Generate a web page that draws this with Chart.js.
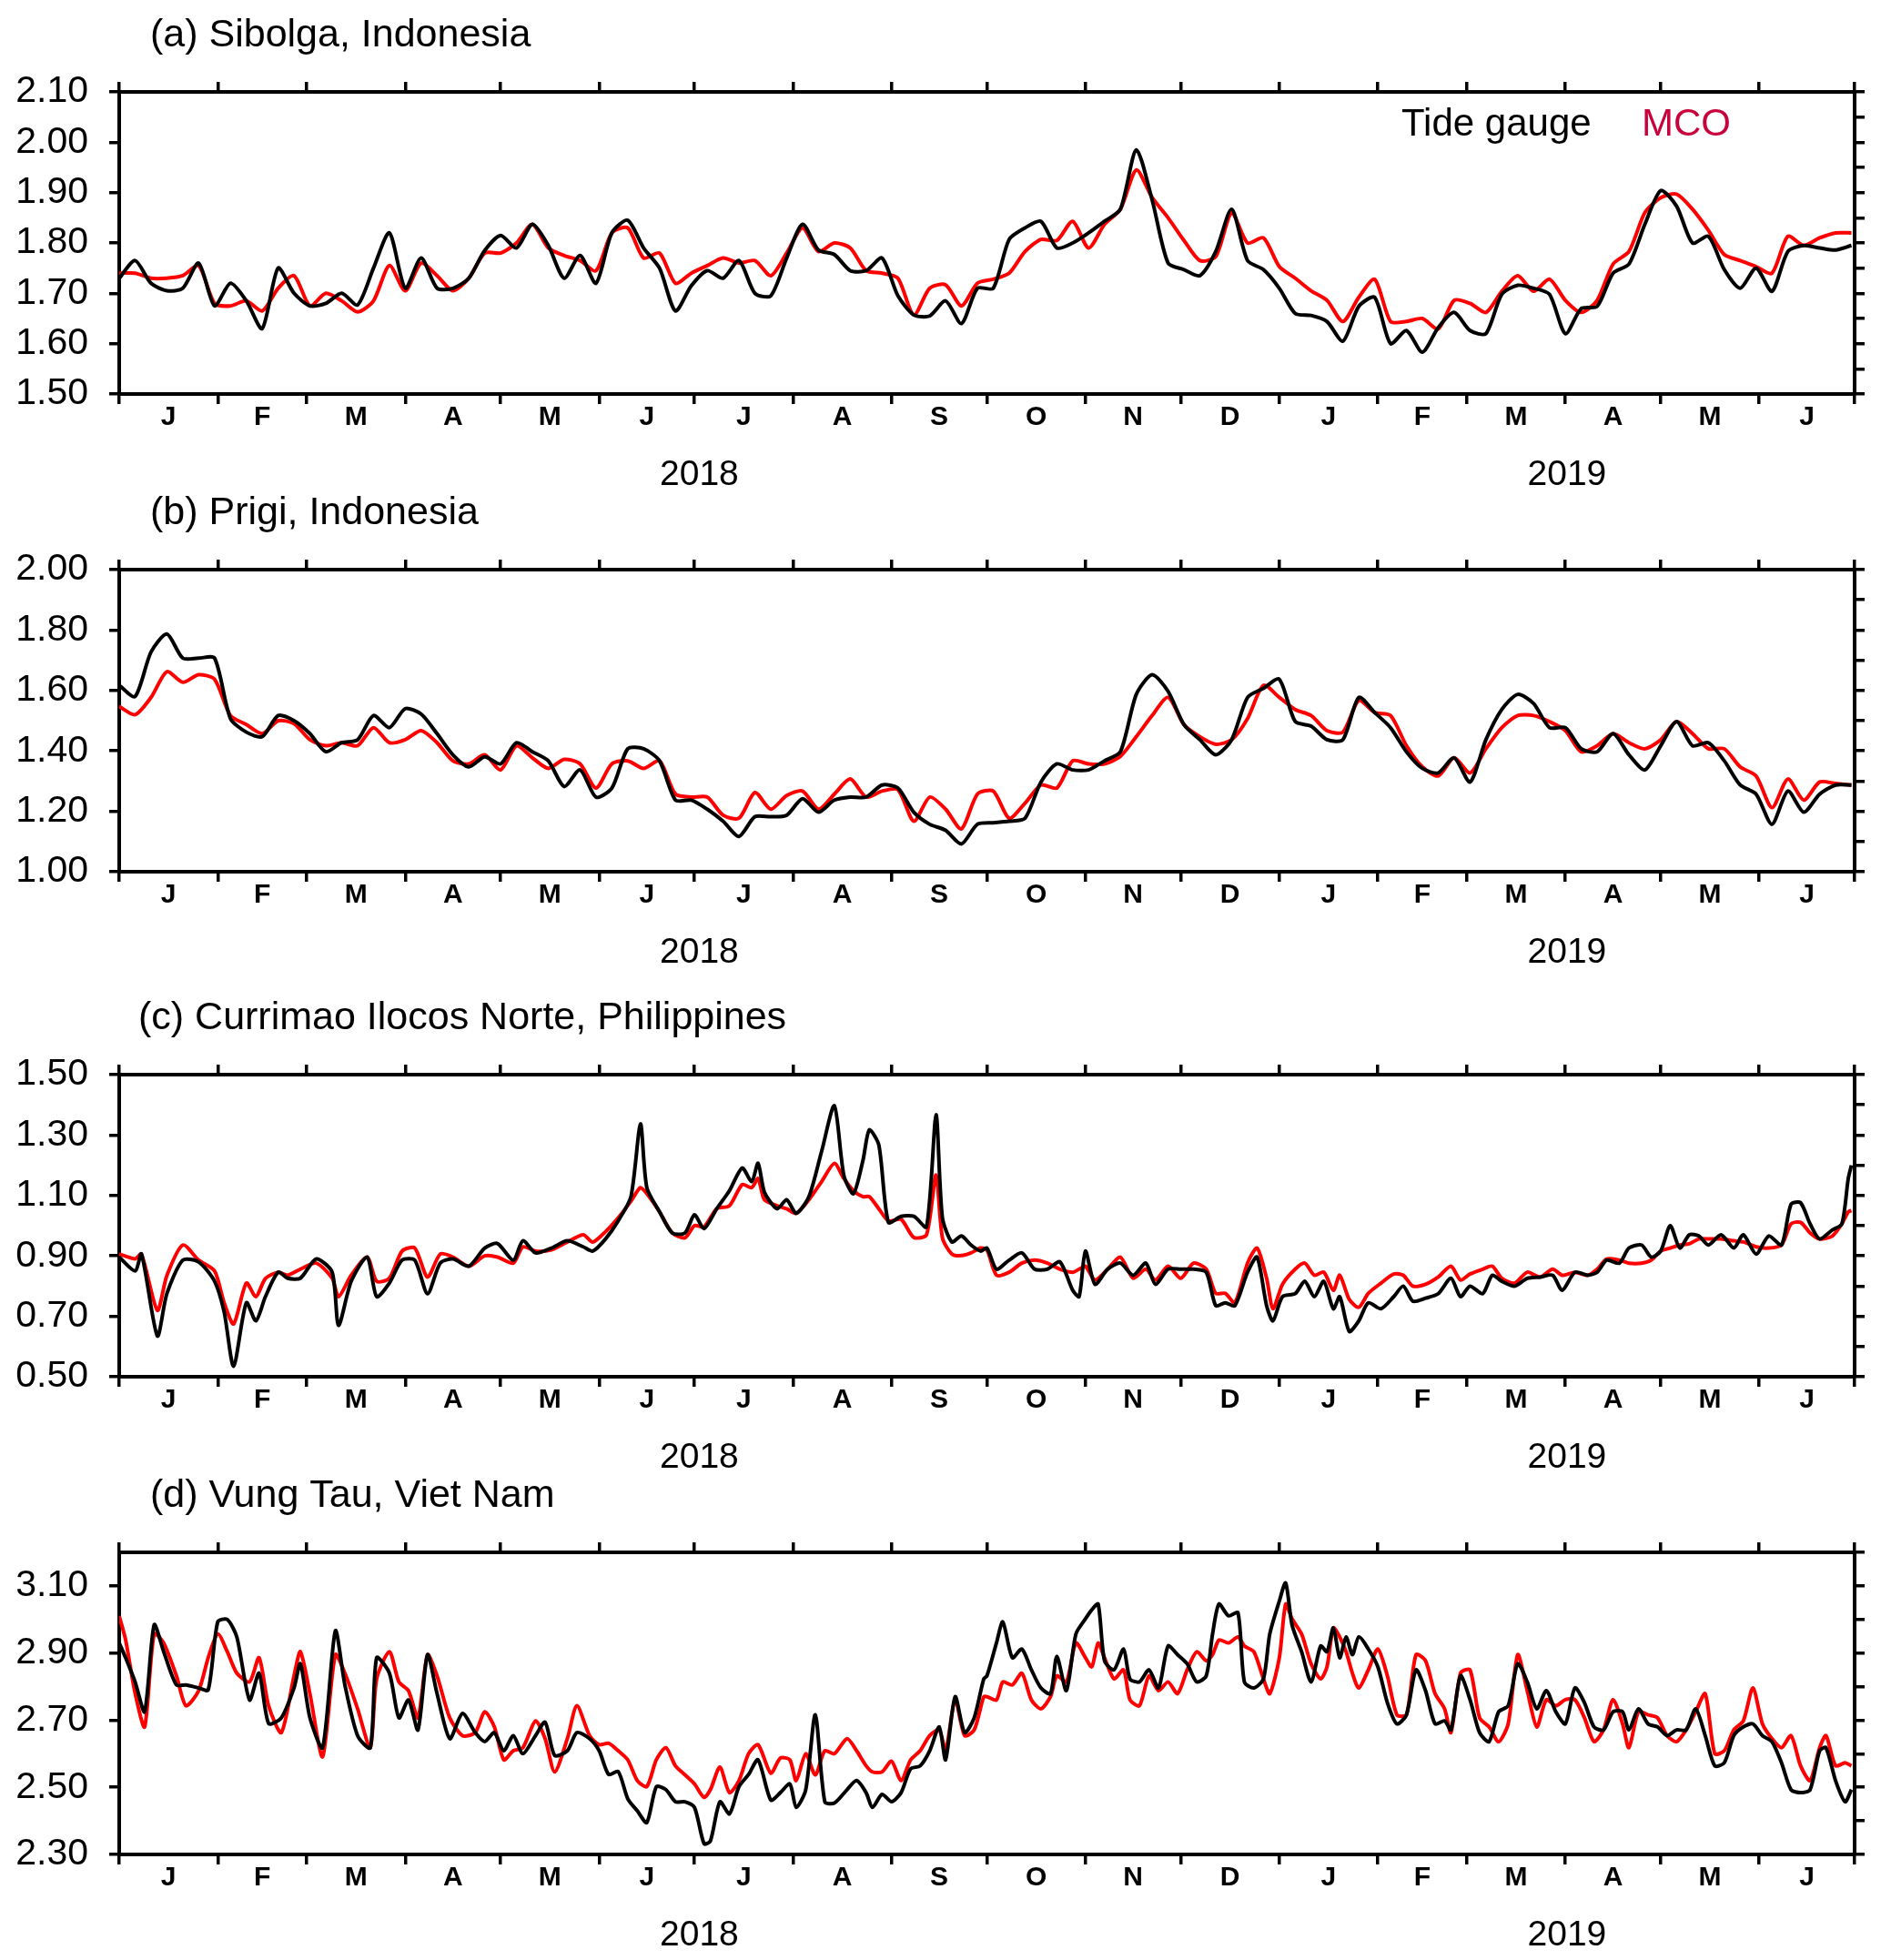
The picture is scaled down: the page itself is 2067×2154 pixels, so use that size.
<!DOCTYPE html>
<html>
<head>
<meta charset="utf-8">
<title>Tide gauge vs MCO sea level</title>
<script src="https://cdn.jsdelivr.net/npm/chart.js@4.4.1/dist/chart.umd.min.js"></script>
<style>
  html, body { margin: 0; padding: 0; background: #fff; }
  #wrap { position: relative; width: 2067px; height: 2154px; overflow: hidden; }
  #wrap canvas { position: absolute; left: 0; }
</style>
</head>
<body>
<div id="wrap">
  <canvas id="panelA" width="2067" height="538" style="top:0px"></canvas>
  <canvas id="panelB" width="2067" height="538" style="top:525px"></canvas>
  <canvas id="panelC" width="2067" height="538" style="top:1080px"></canvas>
  <canvas id="panelD" width="2067" height="538" style="top:1605px"></canvas>
</div>
<script>
// Axis data: days since 1 Jan 2018
const monthStarts = [0, 31, 59, 90, 120, 151, 181, 212, 243, 273, 304, 334, 365, 396, 424, 455, 485, 516, 546];
const monthLabels = ['J', 'F', 'M', 'A', 'M', 'J', 'J', 'A', 'S', 'O', 'N', 'D', 'J', 'F', 'M', 'A', 'M', 'J'];
const yearLabels = ['2018', '2019'];
const yearStarts = [0, 365, 546];

const yTicksA = [1.50, 1.55, 1.60, 1.65, 1.70, 1.75, 1.80, 1.85, 1.90, 1.95, 2.00, 2.05, 2.10];
const yTicksB = [1.0, 1.1, 1.2, 1.3, 1.4, 1.5, 1.6, 1.7, 1.8, 1.9, 2.0];
const yTicksC = [0.5, 0.6, 0.7, 0.8, 0.9, 1.0, 1.1, 1.2, 1.3, 1.4, 1.5];
const yTicksD = [2.3, 2.4, 2.5, 2.6, 2.7, 2.8, 2.9, 3.0, 3.1, 3.2];

// (a) and (b) are read every 5 days
const daysAB = Array.from({ length: 110 }, (_, i) => i * 5);

// (a) Sibolga
const gaugeA = [1.730, 1.765, 1.720, 1.705, 1.710, 1.760, 1.675, 1.720, 1.685, 1.630,
  1.750, 1.700, 1.675, 1.680, 1.700, 1.677, 1.750, 1.820, 1.710, 1.770,
  1.710, 1.710, 1.730, 1.785, 1.815, 1.790, 1.837, 1.795, 1.730, 1.775,
  1.720, 1.820, 1.845, 1.790, 1.750, 1.665, 1.715, 1.745, 1.730, 1.765,
  1.700, 1.695, 1.770, 1.837, 1.786, 1.777, 1.745, 1.745, 1.770, 1.695,
  1.657, 1.655, 1.685, 1.640, 1.710,
  1.710, 1.807, 1.830, 1.843, 1.790, 1.800, 1.820, 1.843, 1.867, 1.985,
  1.885, 1.760, 1.747, 1.735, 1.783, 1.867, 1.765, 1.747, 1.710, 1.660,
  1.656, 1.644, 1.605, 1.674, 1.692, 1.600, 1.626, 1.583, 1.632, 1.662,
  1.626, 1.620, 1.698, 1.716, 1.710, 1.698, 1.620, 1.670, 1.674, 1.740,
  1.758, 1.837, 1.904, 1.873, 1.800, 1.813, 1.747, 1.710, 1.750, 1.704,
  1.783, 1.795, 1.790, 1.786, 1.795];
const mcoA = [1.740, 1.740, 1.730, 1.730, 1.735, 1.755, 1.680, 1.675, 1.685, 1.665,
  1.710, 1.735, 1.675, 1.700, 1.685, 1.663, 1.685, 1.755, 1.705, 1.760,
  1.735, 1.705, 1.730, 1.780, 1.780, 1.800, 1.837, 1.790, 1.775, 1.765,
  1.745, 1.820, 1.830, 1.770, 1.780, 1.720, 1.740, 1.755, 1.770, 1.760,
  1.765, 1.735, 1.780, 1.830, 1.783, 1.800, 1.790, 1.745, 1.740, 1.730,
  1.657, 1.710, 1.717, 1.675, 1.720,
  1.728, 1.740, 1.783, 1.807, 1.805, 1.843, 1.790, 1.837, 1.867, 1.945,
  1.890, 1.850, 1.805, 1.765, 1.773, 1.860, 1.800, 1.810, 1.753, 1.730,
  1.705, 1.686, 1.644, 1.692, 1.728, 1.644, 1.644, 1.650, 1.629, 1.686,
  1.680, 1.662, 1.704, 1.735, 1.704, 1.728, 1.686, 1.662, 1.686, 1.758,
  1.783, 1.860, 1.890, 1.897, 1.867, 1.825, 1.777, 1.765, 1.753, 1.740,
  1.813, 1.795, 1.810, 1.820, 1.820];

// (b) Prigi
const gaugeB = [1.617, 1.580, 1.727, 1.787, 1.707, 1.707, 1.707, 1.507, 1.462, 1.447,
  1.517, 1.500, 1.457, 1.397, 1.427, 1.437, 1.517, 1.477, 1.540, 1.522,
  1.457, 1.387, 1.347, 1.380, 1.357, 1.427, 1.397, 1.367, 1.282, 1.337,
  1.247, 1.277, 1.407, 1.407, 1.367, 1.237, 1.237, 1.207, 1.167, 1.117,
  1.182, 1.182, 1.187, 1.242, 1.197, 1.237, 1.247, 1.247, 1.287, 1.277,
  1.197, 1.157, 1.137, 1.092, 1.157,
  1.162, 1.167, 1.177, 1.297, 1.357, 1.337, 1.337, 1.367, 1.397, 1.587,
  1.652, 1.597, 1.487, 1.437, 1.387, 1.437, 1.577, 1.607, 1.637, 1.497,
  1.482, 1.437, 1.437, 1.577, 1.527, 1.477, 1.397, 1.342, 1.327, 1.377,
  1.297, 1.437, 1.537, 1.587, 1.557, 1.477, 1.477, 1.407, 1.397, 1.457,
  1.387, 1.337, 1.417, 1.497, 1.417, 1.427, 1.367, 1.287, 1.257, 1.157,
  1.267, 1.197, 1.257, 1.287, 1.287];
const mcoB = [1.547, 1.520, 1.577, 1.662, 1.627, 1.652, 1.637, 1.517, 1.487, 1.457,
  1.500, 1.490, 1.437, 1.417, 1.427, 1.417, 1.477, 1.427, 1.437, 1.467,
  1.427, 1.367, 1.357, 1.387, 1.337, 1.417, 1.377, 1.342, 1.372, 1.357,
  1.277, 1.357, 1.367, 1.342, 1.367, 1.257, 1.247, 1.247, 1.187, 1.177,
  1.262, 1.207, 1.252, 1.267, 1.207, 1.257, 1.307, 1.247, 1.267, 1.272,
  1.167, 1.247, 1.207, 1.142, 1.257,
  1.267, 1.177, 1.227, 1.287, 1.277, 1.367, 1.357, 1.357, 1.382, 1.447,
  1.517, 1.577, 1.487, 1.447, 1.422, 1.437, 1.507, 1.617, 1.577, 1.537,
  1.517, 1.467, 1.462, 1.567, 1.527, 1.517, 1.417, 1.347, 1.317, 1.377,
  1.327, 1.407, 1.477, 1.517, 1.517, 1.497, 1.467, 1.397, 1.417, 1.457,
  1.427, 1.407, 1.437, 1.497, 1.457, 1.407, 1.407, 1.347, 1.317, 1.212,
  1.307, 1.237, 1.297, 1.292, 1.287];

// (c) Currimao Ilocos Norte
const daysC = [0, 5, 7, 12, 15, 20, 25, 30, 33, 36, 40, 43, 46, 50, 53, 57, 62, 67, 69, 73,
  78, 81, 85, 89, 93, 97, 101, 105, 110, 115, 119, 124, 127, 131, 136, 141, 146, 149, 153, 157,
  161, 164, 166, 170, 174, 178, 181, 184, 188, 192, 196, 199, 201, 203, 207, 210, 213, 217, 221, 225,
  228, 231, 234, 236, 239, 242, 246, 250, 254, 257, 259, 262, 265, 268, 271,
  273, 276, 280, 284, 288, 292, 296, 300, 302, 304, 307, 311, 315, 319, 323, 326, 330, 334, 338, 342,
  345, 348, 351, 355, 358, 361, 363, 366, 370, 373, 376, 379, 382, 384, 387, 390, 393, 397, 401, 404,
  407, 411, 415, 419, 422, 425, 429, 432, 435, 439, 443, 447, 451, 454, 458, 462, 465, 468, 472, 475,
  479, 482, 485, 488, 491, 494, 497, 500, 504, 508, 511, 515, 519, 523, 526, 529, 532, 535, 539, 542,
  544, 545];
const gaugeC = [0.896, 0.850, 0.906, 0.635, 0.775, 0.886, 0.880, 0.816, 0.715, 0.535,
  0.745, 0.685, 0.765, 0.846, 0.826, 0.826, 0.890, 0.846, 0.670, 0.816,
  0.896, 0.765, 0.810, 0.886, 0.886, 0.775, 0.876, 0.890, 0.866, 0.926,
  0.941, 0.886, 0.950, 0.910, 0.926, 0.950, 0.930, 0.916, 0.956, 1.016,
  1.096, 1.337, 1.126, 1.046, 0.976, 0.976, 1.036, 0.990, 1.056, 1.116,
  1.191, 1.146, 1.207, 1.111, 1.056, 1.086, 1.041, 1.096, 1.246, 1.397,
  1.166, 1.106, 1.216, 1.317, 1.267, 1.011, 1.031, 1.031, 0.996, 1.367,
  1.026, 0.946, 0.966, 0.936, 0.916,
  0.926, 0.856, 0.886, 0.910, 0.856, 0.856, 0.880, 0.786, 0.765, 0.916,
  0.806, 0.856, 0.876, 0.836, 0.876, 0.806, 0.856, 0.856, 0.856, 0.846,
  0.735, 0.745, 0.735, 0.846, 0.896, 0.735, 0.685, 0.765, 0.775, 0.816,
  0.765, 0.816, 0.725, 0.765, 0.650, 0.685, 0.745, 0.725, 0.765, 0.800,
  0.750, 0.760, 0.775, 0.826, 0.765, 0.800, 0.775, 0.836, 0.816, 0.800,
  0.826, 0.830, 0.836, 0.786, 0.846, 0.836, 0.846, 0.886, 0.876, 0.926,
  0.936, 0.896, 0.916, 1.000, 0.926, 0.970, 0.966, 0.936, 0.970, 0.926,
  0.970, 0.906, 0.966, 0.936, 1.071, 1.076, 1.006, 0.956, 0.986, 1.006,
  1.156, 1.200];
const mcoC = [0.906, 0.890, 0.906, 0.720, 0.835, 0.936, 0.886, 0.850, 0.745, 0.675,
  0.810, 0.765, 0.825, 0.846, 0.836, 0.856, 0.876, 0.826, 0.765, 0.836,
  0.896, 0.816, 0.826, 0.916, 0.926, 0.830, 0.906, 0.896, 0.866, 0.900,
  0.896, 0.876, 0.930, 0.916, 0.920, 0.946, 0.970, 0.946, 0.980, 1.026,
  1.081, 1.126, 1.106, 1.046, 0.976, 0.960, 1.000, 0.996, 1.056, 1.066,
  1.136, 1.126, 1.156, 1.086, 1.066, 1.056, 1.041, 1.086, 1.146, 1.206,
  1.156, 1.116, 1.096, 1.096, 1.056, 1.016, 1.021, 0.961, 0.970, 1.168,
  0.960, 0.906, 0.901, 0.910, 0.926,
  0.920, 0.836, 0.846, 0.876, 0.886, 0.876, 0.856, 0.846, 0.856, 0.866,
  0.820, 0.856, 0.896, 0.826, 0.856, 0.820, 0.866, 0.826, 0.876, 0.856,
  0.776, 0.776, 0.745, 0.876, 0.926, 0.826, 0.725, 0.806, 0.856, 0.876,
  0.836, 0.846, 0.786, 0.836, 0.756, 0.730, 0.776, 0.810, 0.840, 0.836,
  0.800, 0.806, 0.830, 0.866, 0.820, 0.840, 0.856, 0.866, 0.826, 0.810,
  0.846, 0.830, 0.856, 0.836, 0.846, 0.836, 0.856, 0.890, 0.886, 0.876,
  0.876, 0.886, 0.916, 0.926, 0.936, 0.940, 0.956, 0.956, 0.956, 0.950,
  0.946, 0.930, 0.926, 0.936, 1.006, 1.011, 0.976, 0.956, 0.966, 1.006,
  1.046, 1.050];

// (d) Vung Tau
const daysD = [0, 2, 5, 8, 11, 14, 18, 21, 25, 28, 31, 34, 37, 41, 44, 47, 51, 55, 57, 60,
  64, 68, 71, 75, 79, 81, 85, 88, 91, 94, 97, 100, 104, 108, 112, 115, 118, 121, 124, 127,
  131, 134, 137, 141, 144, 148, 151, 154, 157, 160, 163, 166, 169, 172, 175, 178, 181, 184, 186, 189,
  192, 195, 198, 201, 205, 208, 211, 213, 216, 219, 222, 225, 229, 232, 235, 237, 240, 243, 246, 249,
  252, 255, 258, 260, 263, 266, 269, 272,
  273, 276, 278, 281, 284, 287, 290, 293, 295, 298, 301, 304, 306, 308, 310, 313, 316, 318, 321, 324,
  327, 330, 333, 336, 339, 342, 344, 346, 349, 352, 354, 357, 360, 362, 365, 367, 369, 372, 375, 378,
  380, 382, 384, 386, 388, 390, 393, 396, 399, 402, 405, 408, 411, 414, 417, 419, 422, 425, 428, 431,
  434, 437, 440, 443, 446, 449, 452, 455, 458, 461, 464, 467, 470, 473, 475, 478, 481, 484, 487, 490,
  493, 496, 499, 502, 505, 508, 511, 514, 517, 520, 523, 526, 529, 532, 535, 537, 540, 543, 545];
const gaugeD = [2.930, 2.886, 2.814, 2.725, 2.984, 2.904, 2.805, 2.805, 2.796, 2.790,
  2.993, 3.000, 2.948, 2.760, 2.840, 2.690, 2.707, 2.796, 2.868, 2.707,
  2.618, 2.966, 2.805, 2.654, 2.618, 2.886, 2.840, 2.707, 2.760, 2.671,
  2.895, 2.779, 2.645, 2.720, 2.663, 2.636, 2.663, 2.609, 2.654, 2.600,
  2.654, 2.694, 2.595, 2.609, 2.663, 2.645, 2.609, 2.538, 2.547, 2.466,
  2.430, 2.395, 2.502, 2.493, 2.457, 2.457, 2.440, 2.332, 2.340, 2.457,
  2.421, 2.502, 2.538, 2.582, 2.462, 2.484, 2.510, 2.440, 2.493, 2.716,
  2.457, 2.453, 2.493, 2.520, 2.484, 2.440, 2.479, 2.457, 2.484, 2.555,
  2.564, 2.609, 2.680, 2.582, 2.770, 2.663, 2.707, 2.823,
  2.832, 2.930, 2.993, 2.886, 2.912, 2.850, 2.796, 2.779, 2.890, 2.788,
  2.957, 3.002, 3.029, 3.046, 2.877, 2.850, 2.912, 2.823, 2.814, 2.850,
  2.796, 2.921, 2.895, 2.868, 2.814, 2.832, 2.957, 3.046, 3.011, 3.020,
  2.814, 2.796, 2.823, 2.957, 3.055, 3.109, 2.984, 2.904, 2.814, 2.921,
  2.904, 2.975, 2.886, 2.948, 2.895, 2.948, 2.912, 2.859, 2.752, 2.689,
  2.716, 2.850, 2.788, 2.689, 2.698, 2.671, 2.832, 2.761, 2.663, 2.636,
  2.725, 2.743, 2.868, 2.814, 2.734, 2.788, 2.725, 2.689, 2.796, 2.752,
  2.680, 2.671, 2.725, 2.725, 2.671, 2.734, 2.689, 2.680, 2.654, 2.671,
  2.671, 2.734, 2.654, 2.564, 2.573, 2.654, 2.680, 2.689, 2.654, 2.636,
  2.573, 2.493, 2.484, 2.493, 2.609, 2.618, 2.520, 2.457, 2.493];
const mcoD = [3.010, 2.940, 2.780, 2.680, 2.957, 2.930, 2.832, 2.743, 2.788, 2.886,
  2.957, 2.904, 2.840, 2.814, 2.886, 2.743, 2.663, 2.832, 2.904, 2.779,
  2.591, 2.895, 2.840, 2.734, 2.618, 2.823, 2.904, 2.814, 2.788, 2.707,
  2.895, 2.832, 2.707, 2.654, 2.663, 2.725, 2.681, 2.582, 2.609, 2.618,
  2.698, 2.645, 2.546, 2.645, 2.743, 2.654, 2.627, 2.631, 2.609, 2.582,
  2.520, 2.502, 2.582, 2.618, 2.564, 2.537, 2.510, 2.470, 2.493, 2.560,
  2.484, 2.520, 2.600, 2.627, 2.542, 2.587, 2.582, 2.520, 2.600, 2.537,
  2.609, 2.600, 2.645, 2.609, 2.564, 2.546, 2.546, 2.578, 2.520, 2.582,
  2.609, 2.654, 2.671, 2.609, 2.761, 2.654, 2.671, 2.770,
  2.770, 2.760, 2.814, 2.805, 2.840, 2.760, 2.734, 2.770, 2.832, 2.814,
  2.930, 2.886, 2.859, 2.930, 2.886, 2.823, 2.850, 2.761, 2.743, 2.832,
  2.788, 2.814, 2.779, 2.850, 2.904, 2.877, 2.895, 2.939, 2.930, 2.948,
  2.921, 2.904, 2.823, 2.779, 2.886, 3.046, 3.002, 2.957, 2.868, 2.823,
  2.859, 2.975, 2.948, 2.904, 2.840, 2.796, 2.850, 2.912, 2.832, 2.716,
  2.716, 2.895, 2.877, 2.779, 2.734, 2.663, 2.840, 2.850, 2.707, 2.680,
  2.636, 2.689, 2.895, 2.788, 2.680, 2.761, 2.743, 2.761, 2.761, 2.707,
  2.636, 2.671, 2.761, 2.689, 2.618, 2.725, 2.716, 2.707, 2.654, 2.636,
  2.671, 2.725, 2.779, 2.600, 2.609, 2.671, 2.698, 2.796, 2.689, 2.645,
  2.618, 2.654, 2.564, 2.520, 2.618, 2.654, 2.564, 2.573, 2.564];

const FONT = "'Liberation Sans', Arial, Helvetica, sans-serif";
Chart.defaults.font.family = FONT;
Chart.defaults.color = '#000';

// plot frame inside each canvas
const AREA = { left: 131, right: 2038, top: 101, bottom: 433, width: 2067, height: 538 };

// month labels sit at the middle of each month, tick marks at the month edges
const monthMid = new Map();
monthLabels.forEach((m, i) => monthMid.set((monthStarts[i] + monthStarts[i + 1]) / 2, m));
const bottomTickValues = monthStarts.concat([...monthMid.keys()]).sort((a, b) => a - b);

const gridStyle = {
  display: true,
  drawOnChartArea: false,
  drawTicks: true,
  tickLength: 11,
  lineWidth: 3.5,
  tickWidth: 3.5,
  color: '#000'
};
const borderStyle = { display: true, width: 4, color: '#000' };

function xBottom() {
  return {
    type: 'linear', position: 'bottom', min: 0, max: 546,
    afterBuildTicks: s => { s.ticks = bottomTickValues.map(v => ({ value: v })); },
    afterFit: s => { s.height = AREA.height - AREA.bottom; },
    grid: Object.assign({}, gridStyle, {
      tickColor: ctx => (ctx.tick && monthMid.has(ctx.tick.value)) ? 'rgba(0,0,0,0)' : '#000'
    }),
    border: borderStyle,
    ticks: {
      autoSkip: false, maxRotation: 0, padding: -3,
      font: { size: 30, weight: 'bold' },
      callback: v => monthMid.get(v) || ''
    }
  };
}

function xTop() {
  return {
    type: 'linear', position: 'top', min: 0, max: 546,
    afterBuildTicks: s => { s.ticks = monthStarts.map(v => ({ value: v })); },
    afterFit: s => { s.height = AREA.top; },
    grid: gridStyle,
    border: borderStyle,
    ticks: { display: false }
  };
}

function yAxis(ticks, position) {
  return {
    type: 'linear', position: position, min: ticks[0], max: ticks[ticks.length - 1],
    afterBuildTicks: s => { s.ticks = ticks.map(v => ({ value: v })); },
    afterFit: s => { s.width = position === 'left' ? AREA.left : AREA.width - AREA.right; },
    grid: gridStyle,
    border: borderStyle,
    ticks: {
      display: position === 'left', padding: 23,
      font: { size: 41 },
      callback: (v, i) => i % 2 === 0 ? v.toFixed(2) : ''
    }
  };
}

// titles, year labels and the text legend
const panelText = {
  id: 'panelText',
  afterDraw(chart, args, opts) {
    const ctx = chart.ctx;
    const area = chart.chartArea;
    const x = chart.scales.x;
    ctx.save();
    ctx.fillStyle = '#000';
    ctx.textBaseline = 'alphabetic';
    ctx.textAlign = 'left';
    ctx.font = '43px ' + FONT;
    ctx.fillText(opts.title, opts.titleX, area.top - 50);

    ctx.textAlign = 'center';
    ctx.font = '39px ' + FONT;
    yearLabels.forEach((y, i) => {
      ctx.fillText(y, x.getPixelForValue((yearStarts[i] + yearStarts[i + 1]) / 2), area.bottom + 100);
    });

    if (opts.legend) {
      ctx.textAlign = 'left';
      ctx.font = '42px ' + FONT;
      ctx.fillStyle = '#000';
      ctx.fillText('Tide gauge', area.right - 498, area.top + 48);
      ctx.fillStyle = '#c8003c';
      ctx.fillText('MCO', area.right - 234, area.top + 48);
    }
    ctx.restore();
  }
};

function toPoints(days, vals, name) {
  if (days.length !== vals.length) throw new Error(name + ': ' + days.length + ' days vs ' + vals.length + ' values');
  return days.map((d, i) => ({ x: d, y: vals[i] }));
}

function drawPanel(id, title, titleX, days, gauge, mco, ticks, legend) {
  new Chart(document.getElementById(id), {
    type: 'line',
    data: {
      datasets: [{
        label: 'Tide gauge',
        data: toPoints(days, gauge, id + ' gauge'),
        borderColor: '#000000',
        borderWidth: 4,
        pointRadius: 0,
        tension: 0.25
      }, {
        label: 'MCO',
        data: toPoints(days, mco, id + ' mco'),
        borderColor: '#ff0000',
        borderWidth: 4,
        pointRadius: 0,
        tension: 0.25
      }]
    },
    options: {
      responsive: false,
      animation: false,
      devicePixelRatio: 1,
      events: [],
      layout: { padding: 0 },
      scales: {
        x: xBottom(),
        xTop: xTop(),
        y: yAxis(ticks, 'left'),
        yRight: yAxis(ticks, 'right')
      },
      plugins: {
        legend: { display: false },
        tooltip: { enabled: false },
        panelText: { title: title, titleX: titleX, legend: legend }
      }
    },
    plugins: [panelText]
  });
}

drawPanel('panelA', '(a) Sibolga, Indonesia', 165, daysAB, gaugeA, mcoA, yTicksA, true);
drawPanel('panelB', '(b) Prigi, Indonesia', 165, daysAB, gaugeB, mcoB, yTicksB, false);
drawPanel('panelC', '(c) Currimao Ilocos Norte, Philippines', 152, daysC, gaugeC, mcoC, yTicksC, false);
drawPanel('panelD', '(d) Vung Tau, Viet Nam', 165, daysD, gaugeD, mcoD, yTicksD, false);
</script>
</body>
</html>
